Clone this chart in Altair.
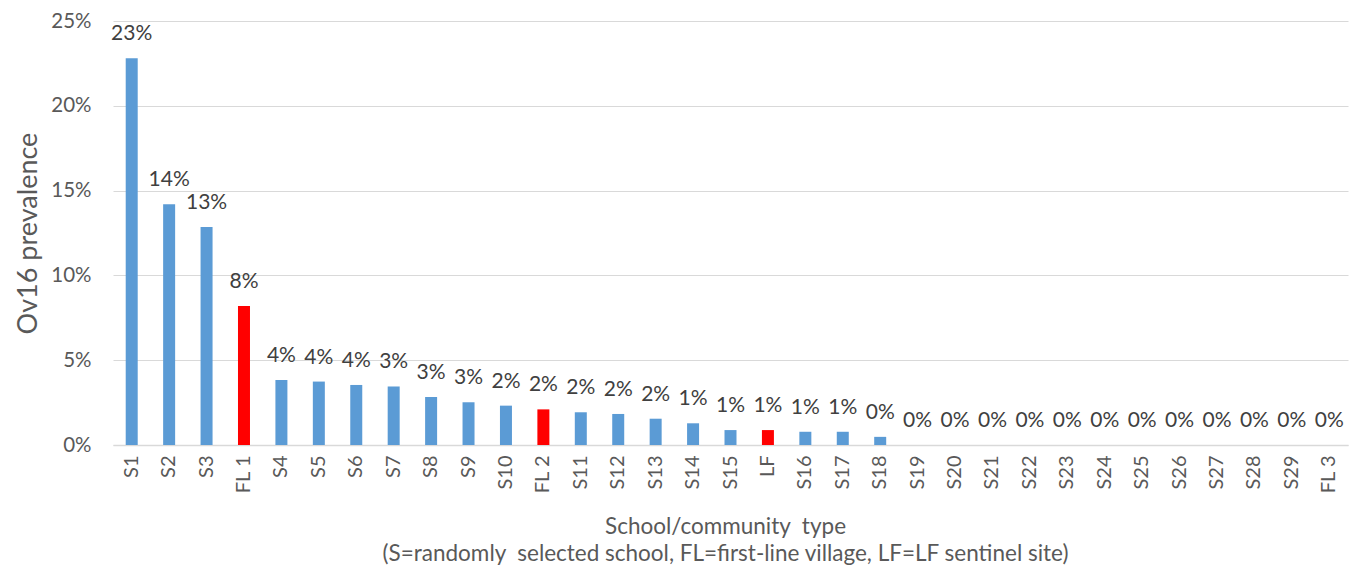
import altair as alt
import pandas as pd

categories = ["S1", "S2", "S3", "FL 1", "S4", "S5", "S6", "S7", "S8", "S9", "S10",
              "FL 2", "S11", "S12", "S13", "S14", "S15", "LF", "S16", "S17", "S18",
              "S19", "S20", "S21", "S22", "S23", "S24", "S25", "S26", "S27", "S28",
              "S29", "FL 3"]
prevalence = [22.8, 14.2, 12.85, 8.2, 3.83, 3.74, 3.54, 3.45, 2.83, 2.52, 2.32,
              2.10, 1.93, 1.83, 1.55, 1.28, 0.88, 0.88, 0.78, 0.78, 0.48,
              0, 0, 0, 0, 0, 0, 0, 0, 0, 0, 0, 0]
site_type = ["S", "S", "S", "FL", "S", "S", "S", "S", "S", "S", "S",
             "FL", "S", "S", "S", "S", "S", "LF", "S", "S", "S",
             "S", "S", "S", "S", "S", "S", "S", "S", "S", "S", "S", "FL"]

df = pd.DataFrame({
    "cat": categories,
    "val": [v / 100 for v in prevalence],
    "type": site_type,
})

FONT = "Lato"
GRAY = "#595959"

x = alt.X("cat:N", sort=categories, scale=alt.Scale(paddingInner=0, paddingOuter=0),
          axis=alt.Axis(
              labelAngle=-90, labelFontSize=20, labelColor=GRAY, labelFont=FONT,
              labelPadding=10, ticks=False, domainColor="#D9D9D9", domainWidth=1.5,
              title=["School/community\u00a0 type",
                     "(S=randomly\u00a0 selected school, FL=first-line village, LF=LF sentinel site)"],
              titleFont=FONT, titleFontSize=22.5, titleFontWeight="normal", titleColor=GRAY,
              titleAlign="center", titleAnchor="middle", titleX=612, titleY=88,
              titleBaseline="alphabetic", titleLineHeight=27))

y = alt.Y("val:Q", scale=alt.Scale(domain=[0, 0.25], nice=False),
          axis=alt.Axis(
              format=".0%", values=[0, 0.05, 0.10, 0.15, 0.20, 0.25],
              labelFontSize=20.5, labelColor=GRAY, labelFont=FONT, labelPadding=22,
              ticks=False, domain=False, gridColor="#D9D9D9", gridWidth=1.2,
              title="Ov16 prevalence", titleFont=FONT, titleFontSize=27,
              titleFontWeight="normal", titleColor=GRAY, titleX=-85, titleY=212,
              titleAlign="center", titleBaseline="middle"))

bars = alt.Chart(df).mark_bar(size=12).encode(
    x=x, y=y,
    color=alt.Color("type:N", scale=alt.Scale(domain=["S", "FL", "LF"],
                                              range=["#5B9BD5", "#FF0000", "#FF0000"]),
                    legend=None),
)

labels = alt.Chart(df).mark_text(
    baseline="alphabetic", dy=-18, fontSize=21, font=FONT, color="#404040"
).encode(
    x=alt.X("cat:N", sort=categories),
    y=alt.Y("val:Q"),
    text=alt.Text("val:Q", format=".0%"),
)

chart = (bars + labels).properties(
    width=1235, height=424,
    padding={"left": 113, "top": 21, "right": 11, "bottom": 126},
    autosize=alt.AutoSizeParams(type="none"),
    background="white",
).configure_view(stroke=None)

chart.save("out.html", embed_options={"renderer": "svg", "actions": False})
